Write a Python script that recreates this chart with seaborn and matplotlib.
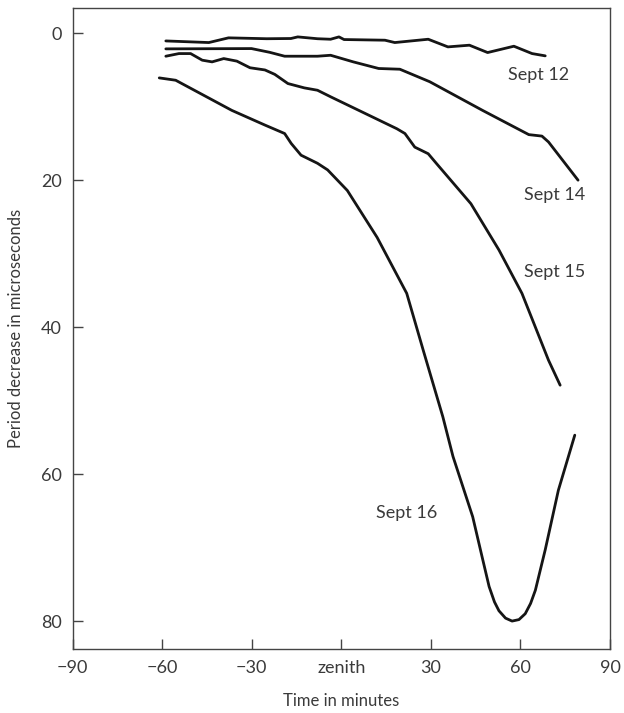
import matplotlib
matplotlib.use("Agg")
import matplotlib.pyplot as plt
import pandas as pd
import seaborn as sns

# values (minutes from zenith, microseconds)
sep12_t = [-58.8, -44.4, -37.8, -25.0, -16.9, -14.6, -8.0, -3.6, -0.8, 0.9, 14.6, 17.9, 29.1, 35.7, 42.9, 49.0, 57.8, 63.9, 68.3]
sep12_v = [1.05, 1.27, 0.63, 0.75, 0.72, 0.5, 0.75, 0.82, 0.5, 0.86, 0.95, 1.27, 0.82, 1.86, 1.63, 2.63, 1.77, 2.77, 3.08]

sep14_t = [-58.8, -30.1, -24.0, -19.0, -8.0, -3.6, 4.0, 12.5, 19.6, 29.6, 47.3, 62.8, 67.2, 69.4, 79.3]
sep14_v = [2.13, 2.09, 2.6, 3.13, 3.13, 3.0, 3.9, 4.8, 4.9, 6.6, 10.5, 13.8, 14.0, 14.8, 20.0]

sep15_t = [-58.8, -54.4, -50.5, -46.6, -43.3, -39.4, -35.0, -30.6, -25.6, -22.3, -17.9, -12.4, -8.0,
           -3.5, 18.6, 21.3, 24.6, 29.1, 31.8, 43.4, 52.8, 60.5, 69.4, 73.3]
sep15_v = [3.13, 2.77, 2.77, 3.67, 3.9, 3.45, 3.8, 4.7, 5.0, 5.6, 6.85, 7.44, 7.76,
           8.67, 13.0, 13.65, 15.5, 16.4, 17.7, 23.2, 29.5, 35.4, 44.5, 47.9]

sep16_t = [-61.0, -55.5, -47.7, -36.7, -25.6, -19.0, -16.8, -13.5, -8.0, -4.6, 2.0, 12.0, 21.9,
           27.4, 34.0, 37.4, 44.0, 47.0, 49.5, 51.3, 52.8, 55.0, 57.2, 59.5, 61.6, 63.4, 65.0, 68.3, 72.7, 78.2]
sep16_v = [6.08, 6.4, 8.1, 10.5, 12.5, 13.65, 15.0, 16.6, 17.7, 18.6, 21.4, 27.8, 35.4,
           43.1, 52.2, 57.6, 65.8, 71.0, 75.3, 77.4, 78.6, 79.6, 80.0, 79.8, 79.0, 77.6, 75.8, 70.3, 62.2, 54.7]

dates = ["Sept 12", "Sept 14", "Sept 15", "Sept 16"]
label_pos = [(66.0, 5.7), (71.6, 22.0), (71.6, 32.5), (21.9, 65.3)]

xticks = [-90, -60, -30, 0, 30, 60, 90]
xtick_labels = ["\u221290", "\u221260", "\u221230", "zenith", "30", "60", "90"]
yticks = [0, 20, 40, 60, 80]

frames = []
for name, t, v in zip(dates, [sep12_t, sep14_t, sep15_t, sep16_t],
                      [sep12_v, sep14_v, sep15_v, sep16_v]):
    frames.append(pd.DataFrame({"time": t, "decrease": v, "date": name}))
df = pd.concat(frames, ignore_index=True)

sns.set_style("ticks")
plt.rcParams["font.family"] = ["Lato", "DejaVu Sans"]
text_color = "#3a3a3a"

fig = plt.figure(figsize=(6.24, 7.13), dpi=100)
ax = fig.add_axes([72.7 / 624, 1 - 649 / 713, (610 - 72.7) / 624, (649 - 7.5) / 713])

sns.lineplot(data=df, x="time", y="decrease", units="date", estimator=None,
             color="#151515", linewidth=2.0, sort=False, ax=ax)

for name, (lx, ly) in zip(dates, label_pos):
    ax.text(lx, ly, name, ha="center", va="center", fontsize=13,
            fontweight="normal", color=text_color)

ax.set_xlim(-90, 90)
ax.set_ylim(83.8, -3.5)
ax.set_xticks(xticks)
ax.set_xticklabels(xtick_labels)
ax.set_yticks(yticks)
ax.tick_params(direction="in", length=7, width=1, colors="#444444",
               labelcolor=text_color, labelsize=13, pad=8)
for sp in ax.spines.values():
    sp.set_color("#444444")
    sp.set_linewidth(1.0)

ax.set_xlabel("Time in minutes", fontsize=12, color=text_color, labelpad=12)
ax.set_ylabel("Period decrease in microseconds", fontsize=12,
              color=text_color, labelpad=12)

fig.savefig("out.png", dpi=100)
